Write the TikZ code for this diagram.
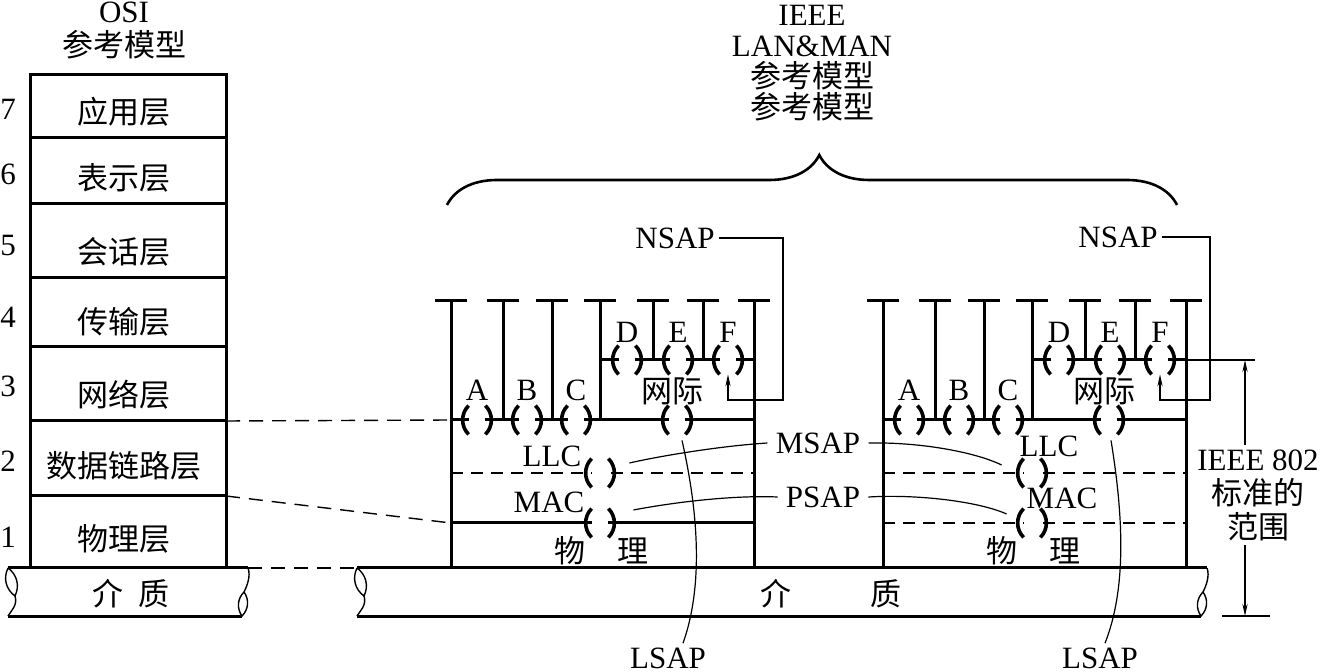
\documentclass[tikz,border=0pt]{standalone}
\usepackage{fontspec}
\setmainfont{Liberation Serif}
\newfontfamily\cjk{Noto Sans CJK SC}
\usetikzlibrary{arrows.meta,decorations.pathreplacing}

\tikzset{
  pipeL/.pic={
    \draw[line width=0.7pt] (0,0) to[bend left=40] (7,28) to[bend left=40] (0,0);
    \draw[line width=0.7pt] (7,28) .. controls (10,37) and (3,43) .. (0,48);
  },
  pipeR/.pic={
    \draw[line width=0.7pt] (0,0) .. controls (3,8) and (-1,18) .. (-4,24);
    \draw[line width=0.7pt] (-4,24) to[bend left=40] (-6,48) to[bend left=40] (-4,24);
  },
}

\begin{document}
\begin{tikzpicture}[x=0.5pt, y=-0.5pt,
    every node/.style={font=\fontsize{15.5}{15.5}\selectfont, inner sep=2pt},
    zh/.style={font=\fontsize{15.5}{15.5}\cjk},
    frame/.style={line width=1.5pt},
    lead/.style={line width=0.6pt},
    dashln/.style={line width=1pt, dash pattern=on 6pt off 4pt},
    link/.style={line width=0.7pt, dash pattern=on 7pt off 4.5pt},
    tip/.style={-{Stealth[length=6pt, width=2.6pt]}},
    sapline/.style={line width=1.8pt},
    sap/.style={inner sep=0pt, minimum width=8pt, minimum height=14pt, fill=white,
      append after command={
        (\tikzlastnode.north west) edge[sapline, bend right=45] (\tikzlastnode.south west)
        (\tikzlastnode.north east) edge[sapline, bend left=45] (\tikzlastnode.south east)}},
  ]
  \useasboundingbox (0,0) rectangle (1321,672);

  % titles
  \node[align=center, font=\fontsize{15.5}{17}\selectfont] (osiTitle) at (124,31) {OSI\\{\cjk 参考模型}};
  \node[align=center] (ieeeTitle) at (812,63) {IEEE\\LAN\&MAN\\{\cjk 参考模型}\\{\cjk 参考模型}};
  \draw[line width=1.3pt, decorate, decoration={brace, amplitude=25pt, aspect=0.51}]
        (447,205) -- (1177,205);

  % OSI stack
  \draw[frame] (30,568) -- (30,75) -- (226,75) -- (226,568);
  \foreach \y in {138,204,278,347,421,496}
    \draw[frame] (30,\y) -- (226,\y);
  \foreach \n/\y/\ny/\t in {7/112/109/应用层, 6/178/174/表示层, 5/252/246/会话层,
                            4/322/317/传输层, 3/395/386/网络层, 2/466/461/数据链路层, 1/539/537/物理层} {
    \node[zh] (osi\n) at (124,\y) {\t};
    \node (num\n) at (8,\ny) {\n};
  }

  % medium
  \draw[frame] (8,568) -- (248,568) (8,616) -- (242,616);
  \pic at (8,568) {pipeL};
  \pic at (248,568) {pipeR};
  \node[zh] (medOsi) at (131,594) {介\hspace{8pt}质};
  \draw[frame] (357,568) -- (1207,568) (357,616) -- (1201,616);
  \pic at (357,568) {pipeL};
  \pic at (1207,568) {pipeR};
  \node[zh] (medIeee) at (831,594) {介\hspace{40pt}质};

  % MAC boundaries
  \draw[frame] (451,523) -- (754,523);
  \draw[dashln] (883,523) -- (1185,523);
  \draw[lead] (1185,360) -- (1255,360);

  % the two IEEE stacks
  \foreach \side/\dx in {L/0, R/432} {
    \begin{scope}[shift={(\dx,0)}]
      \foreach \x/\yb in {451/568, 503/420, 552/420, 600/420, 653/360, 703/360, 754/568}
        \draw[frame] (\x-16,301) -- (\x+16,301) (\x,301) -- (\x,\yb);
      \draw[frame] (600,360) -- (754,360);
      \draw[frame] (451,420) -- (754,420);
      \draw[dashln] (451,473) -- (754,473);
      \foreach \n/\x/\y in {A/477/420, B/527/420, C/576/420, N/677/420, D/627/360,
                            E/678/360, F/728/360, LLC/600/473, MAC/600/523}
        \node[sap] (sap\n\side) at (\x,\y) {};
      \foreach \n/\x/\y in {A/477/390, B/527/390, C/576/390, D/627/332, E/678/332, F/728/332}
        \node (lab\n\side) at (\x,\y) {\n};
      \node[zh] (net\side) at (672,391) {网际};
      \node[zh] (phy\side) at (601,551) {物\hspace{16pt}理};
    \end{scope}
  }
  \node (llcL) at (552,456) {LLC};
  \node (macL) at (549,502) {MAC};
  \node (llcR) at (1049,446) {LLC};
  \node (macR) at (1062,498) {MAC};

  % OSI to IEEE correspondence
  \coordinate (osiTop2) at (226,421);
  \coordinate (osiTop1) at (226,496);
  \coordinate (osiMed) at (248,568);
  \coordinate (llcTop) at (451,420);
  \coordinate (macTop) at (451,523);
  \coordinate (ieeeMed) at (357,568);
  \draw[link] (osiTop2) -- (llcTop);
  \draw[link] (osiTop1) -- (macTop);
  \draw[link] (osiMed) -- (ieeeMed);

  % NSAP
  \node (nsapL) at (675,238) {NSAP};
  \node (nsapR) at (1118,237) {NSAP};
  \coordinate (nsapLbend) at (783,400);
  \coordinate (nsapRbend) at (1210,400);
  \draw[lead, tip] (nsapL.east) -| (nsapLbend) -| (sapFL.south);
  \draw[lead, tip] (nsapR.east) -| (nsapRbend) -| (sapFR.south);

  % MSAP, PSAP
  \node[inner sep=4pt] (msap) at (818,443) {MSAP};
  \node[inner sep=4pt] (psap) at (823,497) {PSAP};
  \draw[lead] (msap.west) .. controls (720,446) and (660,456) .. ([shift={(21,-10)}]sapLLCL.east);
  \draw[lead] (msap.east) .. controls (920,442) and (975,452) .. ([shift={(-22,-8)}]sapLLCR.west);
  \draw[lead] (psap.west) .. controls (730,495) and (670,503) .. ([shift={(25,-13)}]sapMACL.east);
  \draw[lead] (psap.east) .. controls (920,494) and (980,502) .. ([shift={(-17,-9)}]sapMACR.west);

  % LSAP
  \node (lsapL) at (668,658) {LSAP};
  \node (lsapR) at (1100,658) {LSAP};
  \draw[lead] ([shift={(5,6)}]sapNL.south) .. controls (700,520) and (702,590) .. ([shift={(15,0)}]lsapL.north);
  \draw[lead] ([shift={(2,6)}]sapNR.south) .. controls (1124,520) and (1126,590) .. ([shift={(5,0)}]lsapR.north);

  % scope of IEEE 802
  \node[align=center, font=\fontsize{15.5}{17}\selectfont] (scope) at (1258,495)
        {IEEE 802\\{\cjk 标准的}\\{\cjk 范围}};
  \coordinate (scopeT) at (1245,360);
  \coordinate (scopeB) at (1245,616);
  \draw[lead, tip] (scope.north -| scopeT) -- (scopeT);
  \draw[lead, tip] (scope.south -| scopeB) -- (scopeB);
  \draw[lead] (1222,616) -- (1270,616);
\end{tikzpicture}
\end{document}
